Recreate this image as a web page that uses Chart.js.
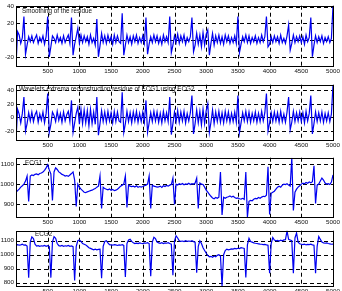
<!DOCTYPE html>
<html>
<head>
<meta charset="utf-8">
<script src="https://cdn.jsdelivr.net/npm/chart.js@4"></script>
<style>
  html, body { margin: 0; padding: 0; background: #fff; overflow: hidden; }
  body { width: 342px; height: 291px; position: relative; }
  canvas { position: absolute; left: 0; }
</style>
</head>
<body>
<canvas id="p1" width="342" height="78" style="top:0px"></canvas>
<canvas id="p2" width="342" height="73" style="top:79px"></canvas>
<canvas id="p3" width="342" height="77" style="top:152px"></canvas>
<canvas id="p4" width="342" height="73" style="top:225px"></canvas>
<script>
// Sample index every 25 samples (0..5000)
const sampleIdx = []
for (let s = 0; s <= 5000; s += 25) sampleIdx.push(s)

// Tick labels
const xTicks = [500, 1000, 1500, 2000, 2500, 3000, 3500, 4000, 4500, 5000]
const yTicksRes = [-20, 0, 20, 40]
const yTicksEcg1 = [900, 1000, 1100]
const yTicksEcg2 = [800, 900, 1000, 1100]

// Panel titles
const titles = [
  'Smoothing of the residue',
  'Wavelets extrema reconstruction residue of ECG1 using ECG2',
  'ECG1',
  'ECG2'
]

// Smoothing of the residue
const residueSmooth = [
  -31, 10, 6, -4, 3, 28, -17, -6, 4, -2,
  5, -3, 2, 6, -4, 3, -2, 5, -5, 4,
  28, -20, -8, 5, 2, -3, 6, -2, 3, -4,
  5, -3, 2, 6, -4, 27, -18, -5, 4, 14,
  -4, 6, -3, 5, -2, 4, -5, 6, -3, 2,
  -6, 25, -20, -7, 8, -3, 5, -4, 6, -2,
  4, -5, 6, -3, 5, -2, -4, 32, -18, -6,
  6, -3, 4, -5, 5, -2, 6, -4, 3, -3,
  5, -4, 27, -17, -5, 4, -3, 6, -2, 5,
  -4, 3, -5, 6, -2, 4, -3, 28, -15, -6,
  5, -3, 7, -4, 5, -2, 6, -5, 3, -2,
  4, 27, -14, -6, 8, -5, 6, -8, 9, -6,
  7, 12, -18, -4, 8, -6, 5, -3, 6, -4,
  4, -5, 6, -2, 5, -4, 3, -3, 5, -4,
  28, -15, -5, 4, -2, 6, -3, 5, -4, 3,
  -2, 5, -4, 3, -3, 6, -2, 4, 28, -8,
  -5, 4, -3, 5, -2, 4, -4, 6, -3, 2,
  -4, 5, 18, -12, -4, 6, -3, 4, -2, 5,
  -3, 4, -5, 6, -2, 3, 27, -20, -6, 5,
  -3, 4, -2, 5, -4, 3, -2, 4, -3, 2,
  41
]

// Wavelets extrema reconstruction residue of ECG1 using ECG2
const residueWavelet = [
  -33, 12, 5, -8, 6, 30, -20, -9, 7, -5,
  8, -6, 4, 9, -7, 5, -4, 8, -8, 6,
  35, -22, -10, 8, 3, -6, 9, -4, 6, -7,
  8, -5, 4, 9, -6, 25, -22, -8, 6, 15,
  -10, 12, -9, 11, -8, 10, -12, 12, -9, 8,
  -10, 30, -26, -9, 10, -6, 8, -7, 9, -5,
  7, -8, 9, -6, 8, -5, -7, 37, -22, -9,
  9, -6, 7, -8, 8, -5, 9, -7, 6, -6,
  8, -7, 25, -22, -8, 7, -6, 9, -5, 8,
  -7, 6, -8, 9, -5, 7, -6, 30, -25, -9,
  8, -6, 10, -7, 8, -5, 9, -8, 6, -5,
  7, 32, -24, -9, 11, -8, 9, -11, 12, -9,
  10, 20, -22, -7, 11, -9, 8, -6, 9, -7,
  7, -8, 9, -5, 8, -7, 6, -6, 8, -7,
  32, -22, -8, 7, -5, 9, -6, 8, -7, 6,
  -5, 8, -7, 6, -6, 9, -5, 7, 35, -20,
  -8, 7, -6, 8, -5, 7, -7, 9, -6, 5,
  -7, 8, 30, -18, -7, 9, -6, 7, -5, 8,
  -6, 7, -8, 9, -5, 6, 32, -24, -9, 8,
  -6, 7, -5, 8, -7, 6, -5, 7, -6, 5,
  48
]

// ECG1
const ecg1 = [
  960, 968, 975, 985, 992, 1000, 1015, 1040, 915, 1040,
  1045, 1042, 1048, 1050, 1046, 1052, 1055, 1060, 1068, 1080,
  1095, 1070, 1050, 920, 1060, 1080, 1072, 1060, 1055, 1048,
  1045, 1040, 1042, 1038, 1045, 1052, 1060, 1020, 890, 1000,
  985, 975, 968, 960, 958, 962, 965, 968, 970, 975,
  978, 985, 990, 1040, 880, 985, 978, 975, 972, 976,
  970, 974, 968, 970, 975, 982, 990, 995, 1000, 1040,
  885, 995, 990, 988, 990, 986, 992, 984, 988, 985,
  988, 992, 995, 1000, 1040, 880, 995, 990, 988, 985,
  986, 990, 984, 992, 988, 993, 990, 995, 998, 1030,
  900, 1000, 996, 1002, 998, 1003, 997, 1001, 999, 1004,
  998, 1002, 1000, 1005, 1030, 880, 1005, 1000, 998, 985,
  970, 960, 950, 940, 932, 928, 934, 930, 936, 1060,
  848, 935, 930, 935, 938, 942, 936, 940, 934, 930,
  932, 928, 926, 930, 925, 1060, 838, 915, 920, 918,
  925, 930, 928, 934, 930, 936, 940, 938, 945, 1085,
  850, 955, 960, 965, 975, 985, 990, 985, 995, 1000,
  998, 1002, 995, 990, 1130, 870, 960, 975, 985, 992,
  1000, 1005, 1002, 1008, 1004, 1010, 1006, 1012, 1090, 905,
  995, 1000, 1015, 1030, 1020, 1005, 1000, 1002, 998, 1010,
  1045
]

// ECG2
const ecg2 = [
  1070, 1072, 1068, 1070, 1075, 1068, 1070, 1062, 835, 1090,
  1128, 1115, 1075, 1062, 1065, 1060, 1064, 1062, 1066, 1060,
  1064, 1058, 835, 1090, 1130, 1118, 1080, 1065, 1062, 1066,
  1060, 1064, 1062, 1066, 1060, 1063, 1058, 815, 1060, 1100,
  1105, 1095, 1080, 1075, 1070, 1060, 1050, 1045, 1040, 1035,
  1040, 1035, 1038, 1040, 830, 1060, 1095, 1100, 1085, 1072,
  1070, 1068, 1072, 1070, 1066, 1070, 1068, 1072, 1066, 840,
  1080, 1105, 1110, 1095, 1085, 1080, 1083, 1080, 1085, 1082,
  1080, 1084, 1082, 1086, 1080, 845, 1090, 1125, 1115, 1090,
  1085, 1082, 1086, 1080, 1084, 1082, 1086, 1080, 1075, 853,
  1100, 1135, 1120, 1100, 1095, 1098, 1094, 1100, 1096, 1098,
  1095, 1100, 1094, 1090, 870, 1060, 1100, 1080, 1050, 1030,
  1010, 995, 985, 988, 982, 990, 985, 995, 1000, 990,
  775, 1000, 1030, 1040, 1035, 1038, 1042, 1040, 1045, 1042,
  1046, 1044, 1050, 1048, 1045, 837, 1070, 1118, 1095, 1090,
  1085, 1082, 1080, 1078, 1076, 1075, 1072, 1074, 1070, 1068,
  867, 1080, 1123, 1105, 1100, 1102, 1098, 1104, 1100, 1106,
  1108, 1170, 1110, 1105, 1100, 867, 1120, 1155, 1090, 1078,
  1075, 1072, 1076, 1070, 1074, 1072, 1075, 1070, 1068, 867,
  1060, 1130, 1110, 1090, 1085, 1082, 1084, 1080, 1078, 1075,
  1076
]

Chart.defaults.font.family = "'Liberation Sans', Arial, sans-serif"
Chart.defaults.font.size = 6.2
Chart.defaults.color = '#111'

// Dashed grid, black box and the text label inside the axes (MATLAB style)
const panelDeco = {
  id: 'panelDeco',
  beforeDatasetsDraw(chart) {
    const a = chart.chartArea
    const ctx = chart.ctx
    ctx.save()
    ctx.strokeStyle = '#000'
    ctx.lineWidth = 1
    ctx.setLineDash([4, 3])
    ctx.beginPath()
    chart.scales.x.ticks.forEach(t => {
      const px = Math.round(chart.scales.x.getPixelForValue(t.value)) + 0.5
      ctx.moveTo(px, a.top)
      ctx.lineTo(px, a.bottom)
    })
    chart.scales.y.ticks.forEach(t => {
      const py = Math.round(chart.scales.y.getPixelForValue(t.value)) + 0.5
      ctx.moveTo(a.left, py)
      ctx.lineTo(a.right, py)
    })
    ctx.stroke()
    ctx.restore()
  },
  afterDatasetsDraw(chart, args, opts) {
    const a = chart.chartArea
    const ctx = chart.ctx
    ctx.save()
    ctx.strokeStyle = '#000'
    ctx.lineWidth = 1
    ctx.strokeRect(Math.round(a.left) + 0.5, Math.round(a.top) + 0.5,
      Math.round(a.right - a.left), Math.round(a.bottom - a.top))
    ctx.fillStyle = '#111'
    ctx.font = "6.3px 'Liberation Sans', Arial, sans-serif"
    ctx.textBaseline = 'middle'
    ctx.fillText(opts.text, a.left + opts.dx, a.top + opts.dy)
    ctx.restore()
  }
}

function makePanel(id, values, yMin, yMax, yTicks, label, dx, dy) {
  const pts = values.map((v, i) => ({ x: sampleIdx[i], y: v }))
  return new Chart(document.getElementById(id), {
    type: 'line',
    data: {
      datasets: [{
        data: pts,
        borderColor: 'rgb(0,0,240)',
        borderWidth: 1.2,
        pointRadius: 0,
        tension: 0,
        fill: false
      }]
    },
    options: {
      responsive: false,
      animation: false,
      devicePixelRatio: 1,
      layout: { padding: { top: 5, right: 9, left: 0, bottom: 0 } },
      plugins: {
        legend: { display: false },
        tooltip: { enabled: false },
        panelDeco: { text: label, dx: dx, dy: dy }
      },
      scales: {
        x: {
          type: 'linear',
          min: 0,
          max: 5000,
          afterBuildTicks: (s) => { s.ticks = xTicks.map(v => ({ value: v })) },
          afterFit: (s) => { s.height = 12 },
          ticks: { padding: 2, maxRotation: 0, autoSkip: false, callback: v => String(v) },
          grid: { display: false, drawTicks: false },
          border: { display: false }
        },
        y: {
          min: yMin,
          max: yMax,
          afterBuildTicks: (s) => { s.ticks = yTicks.map(v => ({ value: v })) },
          afterFit: (s) => { s.width = 16 },
          ticks: { padding: 2, autoSkip: false, callback: v => String(v) },
          grid: { display: false, drawTicks: false },
          border: { display: false }
        }
      }
    },
    plugins: [panelDeco]
  })
}

makePanel('p1', residueSmooth, -31, 41, yTicksRes, titles[0], 6, 6)
makePanel('p2', residueWavelet, -33, 48, yTicksRes, titles[1], 3, 5)
makePanel('p3', ecg1, 838, 1130, yTicksEcg1, titles[2], 9, 5.5)
makePanel('p4', ecg2, 775, 1172, yTicksEcg2, titles[3], 19, 4)
</script>
</body>
</html>
